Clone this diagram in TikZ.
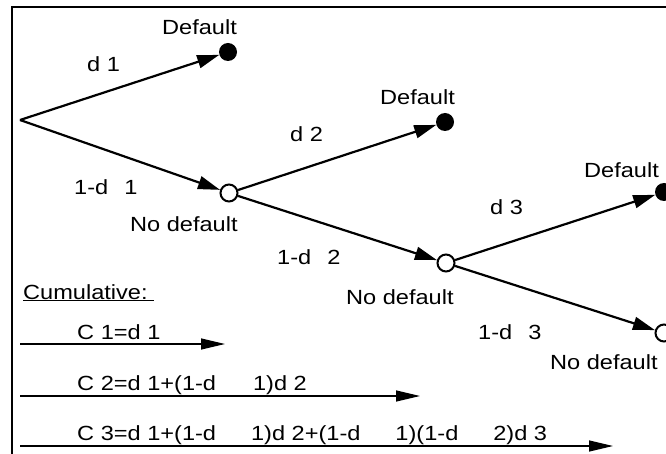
\documentclass[tikz,border=0pt]{standalone}
\usepackage{fontspec}
\setmainfont{Liberation Sans}[FakeStretch=1.15]
\usetikzlibrary{arrows.meta}

\begin{document}
\begin{tikzpicture}[x=1pt,y=-1pt,
  dflt/.style={circle,fill=black,minimum size=18pt,inner sep=0pt},
  nodflt/.style={circle,draw,line width=2pt,fill=white,minimum size=17pt,inner sep=0pt},
  lbl/.style={anchor=base west,inner sep=0pt,font=\fontsize{20.5}{24}\selectfont},
  branch/.style={-{Triangle[length=22pt,width=13pt]},line width=2.2pt},
  cum/.style={-{Triangle[length=24pt,width=11pt]},line width=1.3pt}]
  \useasboundingbox (0,0) rectangle (666,454);
  \clip (0,0) rectangle (666,454);
  % frame
  \draw[line width=1.3pt] (12,454) -- (12,7) -- (666,7);
  % tree
  \coordinate (root) at (20,120);
  \node[dflt] (def1) at (228,52) {};
  \node[nodflt] (nod1) at (229,193) {};
  \node[dflt] (def2) at (445,122) {};
  \node[nodflt] (nod2) at (446,263) {};
  \node[dflt] (def3) at (664,192) {};
  \node[nodflt] (nod3) at (664,333) {};
  \draw[branch] (root) -- (def1);
  \draw[branch] (root) -- (nod1);
  \draw[branch] (nod1) -- (def2);
  \draw[branch] (nod1) -- (nod2);
  \draw[branch] (nod2) -- (def3);
  \draw[branch] (nod2) -- (nod3);
  % labels
  \node[lbl] (tdef1) at (162,35) {Default};
  \node[lbl] (tdef2) at (380,105) {Default};
  \node[lbl] (tdef3) at (584,178) {Default};
  \node[lbl] (tnod1) at (130,232) {No default};
  \node[lbl] (tnod2) at (346,304) {No default};
  \node[lbl] (tnod3) at (550,369) {No default};
  \node[lbl] (pd1) at (87,72) {d 1};
  \node[lbl] (pd2) at (290,142) {d 2};
  \node[lbl] (pd3) at (490,215) {d 3};
  \node[lbl] (qd1) at (74,195) {1-d\hspace{16pt}1};
  \node[lbl] (qd2) at (277,265) {1-d\hspace{16pt}2};
  \node[lbl] (qd3) at (478,339) {1-d\hspace{16pt}3};
  % cumulative
  \node[lbl] (cumul) at (23,299) {\underline{Cumulative:\ }};
  \node[lbl] (c1) at (77,339) {C 1=d 1};
  \node[lbl] (c2) at (77,390) {C 2=d 1+(1-d\hspace{37pt}1)d 2};
  \node[lbl] (c3) at (77,440) {C 3=d 1+(1-d\hspace{35pt}1)d 2+(1-d\hspace{35pt}1)(1-d\hspace{35pt}2)d 3};
  \coordinate (c1s) at (20,344);
  \coordinate (c1e) at (225,344);
  \coordinate (c2s) at (20,396);
  \coordinate (c2e) at (420,396);
  \coordinate (c3s) at (20,446);
  \coordinate (c3e) at (613,446);
  \draw[cum] (c1s) -- (c1e);
  \draw[cum] (c2s) -- (c2e);
  \draw[cum] (c3s) -- (c3e);
\end{tikzpicture}
\end{document}
